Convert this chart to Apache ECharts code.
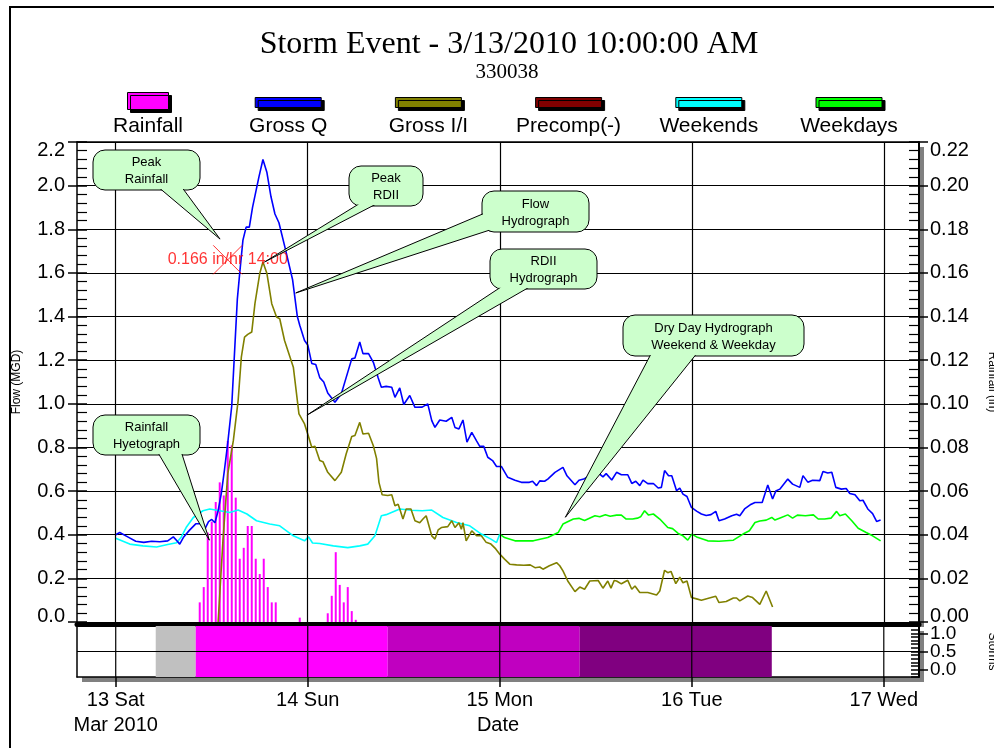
<!DOCTYPE html>
<html>
<head>
<meta charset="utf-8">
<script src="https://cdn.jsdelivr.net/npm/echarts@6/dist/echarts.min.js"></script>
<style>
  html, body { margin: 0; padding: 0; background: #fff; }
  #chart { width: 994px; height: 748px; }
</style>
</head>
<body>
<div id="chart"></div>
<script>
// hours are counted from 13 Mar 2010 00:00
const dayTicks = [0, 24, 48, 72, 96];
const dayLabels = ['13 Sat\nMar 2010', '14 Sun', '15 Mon', '16 Tue', '17 Wed'];
const stormTicks = [0, 0.5, 1];

const legendNames = ['Rainfall', 'Gross Q', 'Gross I/I', 'Precomp(-)', 'Weekends', 'Weekdays'];
const legendColors = ['#ff00ff', '#0000ff', '#808000', '#800000', '#00ffff', '#00ff00'];

// rainfall per 30 min (in)
const rainfall = [
  [10.5, 0.009], [11, 0.016], [11.5, 0.041], [12, 0.046], [12.5, 0.055], [13, 0.064],
  [13.5, 0.058], [14, 0.083], [14.5, 0.081], [15, 0.057], [15.5, 0.029], [16, 0.034],
  [16.5, 0.044], [17, 0.044], [17.5, 0.029], [18, 0.022], [18.5, 0.029], [19, 0.016],
  [19.5, 0.009], [20, 0.009], [23, 0.002],
  [26.5, 0.004], [27, 0.012], [27.5, 0.032], [28, 0.017], [28.5, 0.009], [29, 0.016],
  [29.5, 0.005], [30, 0.001]
];
const peakRain = [[14, 0.166]];

const grossQ = [
  [0, 0.40], [0.5, 0.41], [1.5, 0.39], [2.5, 0.37], [3.5, 0.365], [4.5, 0.37], [5.5, 0.368],
  [6.5, 0.372], [7.2, 0.39], [7.7, 0.37], [8, 0.357], [8.5, 0.39], [9.2, 0.42], [10, 0.45],
  [10.6, 0.45], [11.2, 0.43], [11.6, 0.46], [12, 0.47], [12.4, 0.455], [12.8, 0.51],
  [13.2, 0.59], [13.6, 0.70], [14, 0.82], [14.5, 0.99], [14.9, 1.27], [15.2, 1.48],
  [15.5, 1.60], [15.9, 1.75], [16.3, 1.81], [16.7, 1.81], [17.1, 1.90], [17.5, 1.97],
  [17.9, 2.04], [18.4, 2.12], [18.9, 2.06], [19.4, 1.95], [19.9, 1.87], [20.4, 1.83],
  [21.2, 1.71], [22.1, 1.57], [22.7, 1.40], [23, 1.36], [23.6, 1.29], [24, 1.27],
  [24.5, 1.185], [25, 1.18], [25.5, 1.12], [26, 1.10], [26.5, 1.05], [27.4, 1.007],
  [28.2, 1.046], [28.8, 1.12], [29.5, 1.206], [29.9, 1.21], [30.5, 1.283], [30.9, 1.23],
  [31.6, 1.23], [32.2, 1.19], [32.8, 1.12], [33.2, 1.076], [33.8, 1.08], [34.5, 1.076],
  [34.9, 1.03], [35.5, 1.073], [36, 0.997], [36.75, 1.038], [37.4, 0.984], [38.3, 0.985],
  [39, 1.0], [39.5, 0.923], [39.9, 0.892], [40.5, 0.926], [41.3, 0.92], [42, 0.938],
  [42.4, 0.892], [42.9, 0.885], [43.4, 0.926], [43.9, 0.824], [44.5, 0.869], [45.1, 0.83],
  [45.5, 0.805], [46, 0.805], [46.5, 0.755], [47.1, 0.74], [47.6, 0.713], [48.2, 0.713],
  [49, 0.663], [49.9, 0.65], [50.7, 0.64], [51.7, 0.64], [52.1, 0.645], [52.6, 0.625],
  [53, 0.647], [53.6, 0.645], [54, 0.655], [54.9, 0.686], [55.9, 0.709], [56.4, 0.67],
  [57.4, 0.629], [57.9, 0.65], [58.5, 0.655], [59.1, 0.668], [59.9, 0.686], [60.5, 0.678],
  [60.9, 0.665], [61.3, 0.68], [62, 0.651], [62.6, 0.686], [63.2, 0.675], [64, 0.675],
  [64.5, 0.635], [65, 0.645], [65.5, 0.625], [65.9, 0.65], [66.5, 0.634], [67.2, 0.635],
  [67.8, 0.614], [68.2, 0.617], [68.6, 0.694], [69.1, 0.67], [69.5, 0.67], [70.1, 0.602],
  [70.5, 0.614], [70.9, 0.586], [71.4, 0.575], [71.96, 0.525], [72.6, 0.508], [73.2, 0.495],
  [73.8, 0.488], [74.4, 0.492], [75, 0.507], [75.4, 0.464], [76.1, 0.472], [77, 0.487],
  [77.6, 0.494], [78, 0.487], [78.6, 0.518], [79.3, 0.537], [79.9, 0.548], [80.1, 0.555],
  [80.8, 0.548], [81.5, 0.628], [82.1, 0.564], [82.5, 0.6], [83, 0.609], [84, 0.655],
  [84.6, 0.632], [85.5, 0.617], [85.9, 0.671], [86.5, 0.641], [87.1, 0.65], [88, 0.648],
  [88.4, 0.69], [89, 0.683], [89.5, 0.686], [90, 0.617], [90.7, 0.609], [91.3, 0.612],
  [91.75, 0.589], [92.4, 0.583], [93, 0.556], [93.4, 0.558], [94, 0.518], [94.6, 0.497],
  [95.1, 0.461], [95.6, 0.467]
];

const grossII = [
  [12.8, 0], [13.4, 0.372], [14, 0.678], [14.7, 0.831], [15.3, 1.015], [15.7, 1.214],
  [16.1, 1.306], [16.5, 1.318], [17, 1.329], [17.4, 1.459], [18, 1.597], [18.4, 1.65],
  [18.9, 1.597], [19.5, 1.459], [20.1, 1.398], [20.5, 1.39], [21.1, 1.29], [22.2, 1.168],
  [22.9, 0.954], [23.6, 0.908], [24, 0.862], [24.5, 0.801], [24.9, 0.805], [25.5, 0.74],
  [25.9, 0.735], [26.5, 0.686], [27.4, 0.648], [28.2, 0.686], [28.8, 0.77], [29.5, 0.85],
  [29.9, 0.855], [30.5, 0.915], [30.9, 0.862], [31.6, 0.865], [32.2, 0.808], [32.6, 0.75],
  [32.9, 0.64], [33.3, 0.583], [34, 0.58], [34.5, 0.583], [34.9, 0.533], [35.3, 0.54],
  [35.5, 0.518], [35.9, 0.472], [36.3, 0.518], [36.9, 0.518], [37.4, 0.464], [38, 0.455],
  [38.4, 0.472], [38.8, 0.487], [39.5, 0.395], [39.9, 0.38], [40.3, 0.422], [40.7, 0.433],
  [41.5, 0.437], [42, 0.464], [42.4, 0.433], [42.9, 0.455], [43.2, 0.425], [43.4, 0.455],
  [43.8, 0.372], [44.5, 0.418], [45.1, 0.395], [45.7, 0.395], [46.3, 0.365], [46.9, 0.357],
  [47.5, 0.335], [48, 0.311], [48.6, 0.288], [49.25, 0.265], [50.1, 0.262], [51, 0.26],
  [51.8, 0.262], [52.4, 0.249], [53, 0.252], [53.4, 0.242], [54.2, 0.258], [55.1, 0.272],
  [55.5, 0.258], [55.9, 0.234], [56.5, 0.188], [57.4, 0.139], [58, 0.16], [58.6, 0.15],
  [59.25, 0.188], [60.3, 0.19], [60.9, 0.155], [61.5, 0.188], [61.9, 0.155], [62.3, 0.19],
  [62.6, 0.188], [63.2, 0.175], [64, 0.191], [64.5, 0.15], [64.9, 0.165], [65.5, 0.135],
  [66.5, 0.135], [67.6, 0.124], [68, 0.142], [68.6, 0.237], [69, 0.226], [69.4, 0.232],
  [70, 0.176], [70.5, 0.205], [70.9, 0.18], [71.4, 0.188], [71.96, 0.112], [72.6, 0.106],
  [73.2, 0.1], [74.2, 0.11], [75, 0.118], [75.4, 0.089], [76.3, 0.094], [77.2, 0.11],
  [77.6, 0.11], [78, 0.097], [79, 0.119], [79.6, 0.112], [80.5, 0.081], [81.3, 0.142],
  [82.1, 0.069]
];

const weekends = [
  [0, 0.384], [1.75, 0.357], [3.4, 0.349], [5.1, 0.344], [6.5, 0.355], [7.6, 0.363],
  [8.2, 0.39], [8.8, 0.433], [9.7, 0.479], [10.9, 0.51], [11.75, 0.518], [13, 0.51],
  [14.25, 0.502], [15.3, 0.513], [16.4, 0.495], [17.6, 0.464], [19.25, 0.449], [20.5, 0.441],
  [22.2, 0.395], [23.6, 0.372], [24.1, 0.39], [24.6, 0.362], [25.5, 0.36], [27.2, 0.349],
  [29, 0.341], [30.5, 0.349], [31.5, 0.357], [32.4, 0.395], [33.2, 0.487], [33.8, 0.492],
  [35.5, 0.518], [37, 0.512], [38.3, 0.51], [39.5, 0.513], [40.9, 0.479], [42.6, 0.456],
  [44.25, 0.441], [45.7, 0.403], [46.9, 0.38], [47.6, 0.364], [48, 0.403]
];

const weekdays = [
  [48, 0.403], [48.6, 0.387], [49.9, 0.372], [52.2, 0.372], [54, 0.387], [55.3, 0.41],
  [55.9, 0.449], [57.2, 0.472], [57.9, 0.475], [58.6, 0.465], [59.9, 0.487], [60.5, 0.482],
  [61.2, 0.492], [61.8, 0.485], [62.6, 0.49], [63.2, 0.49], [63.8, 0.472], [64.6, 0.472],
  [65.2, 0.476], [65.6, 0.482], [66.1, 0.51], [66.6, 0.49], [67.2, 0.495], [68, 0.472],
  [69, 0.433], [69.6, 0.428], [70.3, 0.406], [70.9, 0.395], [71.5, 0.375], [72, 0.403],
  [72.6, 0.39], [74, 0.372], [75.4, 0.37], [77.2, 0.375], [78.4, 0.403], [79.2, 0.418],
  [79.9, 0.456], [80.5, 0.463], [81.3, 0.467], [82, 0.479], [82.4, 0.467], [83.2, 0.479],
  [84, 0.491], [84.6, 0.476], [85.2, 0.49], [86.2, 0.487], [87.2, 0.491], [87.8, 0.472],
  [88.6, 0.472], [89.4, 0.476], [90.1, 0.507], [90.5, 0.487], [91.2, 0.495], [92, 0.464],
  [92.8, 0.43], [93.8, 0.41], [94.6, 0.395], [95.6, 0.372]
];

// storm strip: start/end hours
const stormBands = [[5, 10], [10, 34], [34, 58], [58, 82]];
const bandColors = ['#c0c0c0', '#ff00ff', '#c000c0', '#800080'];

// callout tips are data points [hour, flow]
const callouts = [
  { text: 'Peak\nRainfall', box: [93, 150, 107, 40], base: [[157, 186], [181, 186]], tip: [13.04, 1.755] },
  { text: 'Peak\nRDII', box: [349, 166, 74, 40], base: [[362, 202], [380, 202]], tip: [18.6, 1.65] },
  { text: 'Flow\nHydrograph', box: [482, 191, 107, 41], base: [[485, 213], [493, 229]], tip: [22.5, 1.508] },
  { text: 'RDII\nHydrograph', box: [490, 249, 107, 40], base: [[504, 285], [533, 285]], tip: [23.9, 0.948] },
  { text: 'Dry Day Hydrograph\nWeekend & Weekday', box: [623, 315, 181, 41], base: [[652, 352], [698, 352]], tip: [56.2, 0.48] },
  { text: 'Rainfall\nHyetograph', box: [93, 415, 107, 40], base: [[157, 451], [181, 451]], tip: [11.7, 0.375] }
];

const FONT = "'Liberation Sans', Arial, sans-serif";
const SERIF = "'Liberation Serif', 'Times New Roman', serif";
const X_MIN = -4.84, X_MAX = 100.4;

const chart = echarts.init(document.getElementById('chart'), null, { renderer: 'canvas' });

const endLabel = (v, digits, top) => {
  const s = v.toFixed(digits);
  if (Math.abs(v - top) < 1e-6) return '{t|' + s + '}';
  if (Math.abs(v) < 1e-6) return '{b|' + s + '}';
  return s;
};
const endRich = {
  t: { fontSize: 20, fontFamily: FONT, color: '#000', padding: [16, 0, 0, 0] },
  b: { fontSize: 20, fontFamily: FONT, color: '#000', padding: [0, 0, 12, 0] }
};
const black = { color: '#000', width: 1.5 };
const gridLine = { color: '#000', width: 1.2, type: 'solid' };
const off = { show: false };
const noLine = { show: false, onZero: false };
const axisLine = (width) => ({ show: true, onZero: false, lineStyle: { color: '#000', width } });
const gridBox = { show: true, backgroundColor: '#fff', borderWidth: 0, shadowColor: '#808080',
  shadowOffsetX: 5, shadowOffsetY: 5, shadowBlur: 0, outerBoundsMode: 'none', containLabel: false };

const lineSeries = (name, data, color) => ({
  name, type: 'line', xAxisIndex: 0, yAxisIndex: 0, data,
  symbol: 'none', lineStyle: { color, width: 1.6 }, itemStyle: { color }, z: 3
});

const option = {
  animation: false,
  backgroundColor: '#fff',
  grid: [
    Object.assign({ left: 77, top: 142, width: 842, height: 480 }, gridBox),
    Object.assign({ left: 77, top: 626, width: 842, height: 51 }, gridBox)
  ],
  xAxis: [
    { type: 'value', gridIndex: 0, min: X_MIN, max: X_MAX, position: 'bottom', offset: 2,
      axisLine: axisLine(5), axisTick: off, axisLabel: off, splitLine: off },
    { type: 'value', gridIndex: 1, min: X_MIN, max: X_MAX, position: 'bottom',
      name: 'Date', nameLocation: 'middle', nameGap: 36, nameMoveOverlap: false,
      nameTextStyle: { fontFamily: FONT, fontSize: 20, color: '#000', lineHeight: 25 },
      axisLine: axisLine(1.5),
      axisTick: { show: true, customValues: dayTicks, length: 10, lineStyle: black },
      axisLabel: { show: true, customValues: dayTicks, margin: 11, fontFamily: FONT, fontSize: 20,
        color: '#000', lineHeight: 25, hideOverlap: false,
        formatter: v => dayLabels[dayTicks.indexOf(Math.round(v))] || '' },
      splitLine: off },
    { type: 'value', gridIndex: 0, min: X_MIN, max: X_MAX, position: 'top',
      axisLine: axisLine(1.5), axisTick: off, axisLabel: off, splitLine: off }
  ],
  yAxis: [
    { type: 'value', gridIndex: 0, position: 'left', min: 0, max: 2.2, interval: 0.2,
      name: 'Flow (MGD)', nameLocation: 'middle', nameGap: 54, nameRotate: 90,
      nameTextStyle: { fontFamily: FONT, fontSize: 12, color: '#000' },
      axisLine: axisLine(1.5),
      axisTick: { show: true, length: 9, lineStyle: black },
      axisLabel: { margin: 12, fontFamily: FONT, fontSize: 20, color: '#000',
        formatter: v => endLabel(v, 1, 2.2), rich: endRich },
      splitLine: { show: true, lineStyle: gridLine } },
    { type: 'value', gridIndex: 0, position: 'right', min: 0, max: 0.22, interval: 0.02,
      name: 'Rainfall (in)', nameLocation: 'middle', nameGap: 67, nameRotate: -90,
      nameTextStyle: { fontFamily: FONT, fontSize: 12, color: '#000' },
      axisLine: axisLine(2),
      axisTick: { show: true, length: 9, lineStyle: black },
      axisLabel: { margin: 11, fontFamily: FONT, fontSize: 20, color: '#000',
        formatter: v => endLabel(v, 2, 0.22), rich: endRich },
      splitLine: off },
    { type: 'value', gridIndex: 0, position: 'left', min: 0, max: 2.2, interval: 0.2,
      axisLine: noLine, axisLabel: off, splitLine: off,
      axisTick: { show: true, inside: true, length: 10, lineStyle: black },
      minorTick: { show: true, splitNumber: 5, length: 10, lineStyle: { color: '#000', width: 1.2 } } },
    { type: 'value', gridIndex: 0, position: 'right', min: 0, max: 0.22, interval: 0.02,
      axisLine: noLine, axisLabel: off, splitLine: off,
      axisTick: { show: true, inside: true, length: 10, lineStyle: black },
      minorTick: { show: true, splitNumber: 5, length: 10, lineStyle: { color: '#000', width: 1.2 } } },
    { type: 'value', gridIndex: 1, position: 'right', min: -0.2, max: 1.2, interval: 0.1,
      name: 'Storms', nameLocation: 'middle', nameGap: 67, nameRotate: -90,
      nameTextStyle: { fontFamily: FONT, fontSize: 12, color: '#000' },
      axisLine: axisLine(2),
      axisTick: { show: true, customValues: stormTicks, length: 9, lineStyle: black },
      axisLabel: { customValues: [0, 1], margin: 11, fontFamily: FONT, fontSize: 19,
        color: '#000', hideOverlap: false, formatter: v => v.toFixed(1) },
      splitLine: off },
    { type: 'value', gridIndex: 1, position: 'right', min: -0.2, max: 1.2, interval: 0.1,
      axisLine: noLine, axisLabel: off, splitLine: off,
      axisTick: { show: true, inside: true, length: 8, lineStyle: black } },
    { type: 'value', gridIndex: 1, position: 'right', min: -0.2, max: 1.2,
      axisLine: noLine, axisTick: off, splitLine: off,
      axisLabel: { customValues: [0.5], margin: 11, fontFamily: FONT, fontSize: 19,
        color: '#000', hideOverlap: false, formatter: v => v.toFixed(1) } },
    { type: 'value', gridIndex: 1, position: 'left', min: -0.2, max: 1.2,
      axisLine: axisLine(1.5), axisTick: off, axisLabel: off, splitLine: off }
  ],
  series: [
    { name: 'dayLines', type: 'line', xAxisIndex: 0, yAxisIndex: 0, data: [], z: 1, silent: true,
      markLine: { symbol: 'none', silent: true, animation: false, label: off,
        lineStyle: gridLine, data: dayTicks.map(d => ({ xAxis: d })) } },
    { name: 'Rainfall', type: 'bar', xAxisIndex: 0, yAxisIndex: 1, data: rainfall, barWidth: 2,
      itemStyle: { color: '#ff00ff' }, z: 2 },
    lineSeries('Weekends', weekends, '#00ffff'),
    lineSeries('Weekdays', weekdays, '#00ff00'),
    lineSeries('Gross I/I', grossII, '#808000'),
    lineSeries('Gross Q', grossQ, '#0000ff'),
    { name: 'Peak Rainfall', type: 'scatter', xAxisIndex: 0, yAxisIndex: 1, data: peakRain,
      symbol: 'path://M0,0L10,10M10,0L0,10', symbolSize: 29, z: 6,
      itemStyle: { color: 'rgba(0,0,0,0)', borderColor: '#ff0000', borderWidth: 1 },
      label: { show: true, position: 'inside', color: '#ff0000', fontFamily: FONT, fontSize: 16,
        formatter: p => p.value[1].toFixed(3) + ' in/hr ' + p.value[0] + ':00' } },
    { name: 'Storms', type: 'custom', xAxisIndex: 1, yAxisIndex: 4, z: 2,
      data: stormBands.map((b, i) => ({ value: b, itemStyle: { color: bandColors[i] } })),
      renderItem: (params, api) => {
        const x0 = api.coord([api.value(0), 0])[0];
        const x1 = api.coord([api.value(1), 0])[0];
        const cs = params.coordSys;
        return { type: 'rect', shape: { x: x0, y: cs.y, width: x1 - x0, height: cs.height },
          style: { fill: api.visual('color') } };
      } },
    { name: 'stripGrid', type: 'custom', xAxisIndex: 1, yAxisIndex: 4, z: 3, silent: true,
      data: dayTicks.map(d => [d]),
      renderItem: (params, api) => {
        const cs = params.coordSys;
        const x = api.coord([api.value(0), 0])[0];
        const children = [{ type: 'line', shape: { x1: x, y1: cs.y, x2: x, y2: cs.y + cs.height },
          style: { stroke: '#000', lineWidth: 1.2 } }];
        if (params.dataIndex === 0) {
          const y = api.coord([0, stormTicks[1]])[1];
          children.push({ type: 'line', shape: { x1: cs.x, y1: y, x2: cs.x + cs.width, y2: y },
            style: { stroke: '#000', lineWidth: 1.2 } });
        }
        return { type: 'group', children };
      } }
  ]
};

chart.setOption(option);

// title, legend and callouts
const graphics = [
  { type: 'rect', silent: true, shape: { x: 10, y: 7, width: 1000, height: 800 },
    style: { fill: 'none', stroke: '#000', lineWidth: 2 } },
  { type: 'text', silent: true, style: { text: 'Storm Event - 3/13/2010 10:00:00 AM', x: 509, y: 45,
    align: 'center', verticalAlign: 'middle', font: '32px ' + SERIF, fill: '#000' } },
  { type: 'text', silent: true, style: { text: '330038', x: 507, y: 72,
    align: 'center', verticalAlign: 'middle', font: '21px ' + SERIF, fill: '#000' } }
];

legendNames.forEach((name, i) => {
  const cx = 148 + i * 140.2;
  const w = i === 0 ? 41 : 66;
  const h = i === 0 ? 17 : 10;
  const y = i === 0 ? 92.5 : 97.5;
  graphics.push({ type: 'rect', silent: true, shape: { x: cx - w / 2, y, width: w, height: h },
    style: { fill: legendColors[i], stroke: '#000', lineWidth: 1, shadowColor: '#000',
      shadowOffsetX: 3, shadowOffsetY: 3, shadowBlur: 0 } });
  graphics.push({ type: 'text', silent: true, style: { text: name, x: cx, y: 126,
    align: 'center', verticalAlign: 'middle', font: '21px ' + FONT, fill: '#000' } });
});

callouts.forEach(c => {
  const [x, y, w, h] = c.box;
  const tip = chart.convertToPixel({ xAxisIndex: 0, yAxisIndex: 0 }, c.tip);
  graphics.push({ type: 'rect', silent: true, z: 100, shape: { x, y, width: w, height: h, r: 12 },
    style: { fill: '#ccffcc', stroke: '#000', lineWidth: 1 } });
  graphics.push({ type: 'polygon', silent: true, z: 101, shape: { points: [c.base[0], c.base[1], tip] },
    style: { fill: '#ccffcc', stroke: '#000', lineWidth: 1 } });
  graphics.push({ type: 'rect', silent: true, z: 102,
    shape: { x: x + 1, y: y + 1, width: w - 2, height: h - 2, r: 11 },
    style: { fill: '#ccffcc' } });
  graphics.push({ type: 'text', silent: true, z: 103, style: { text: c.text, x: x + w / 2, y: y + h / 2 + 1,
    align: 'center', verticalAlign: 'middle', font: '13px ' + FONT, lineHeight: 17, fill: '#000' } });
});

chart.setOption({ graphic: graphics });
</script>
</body>
</html>
